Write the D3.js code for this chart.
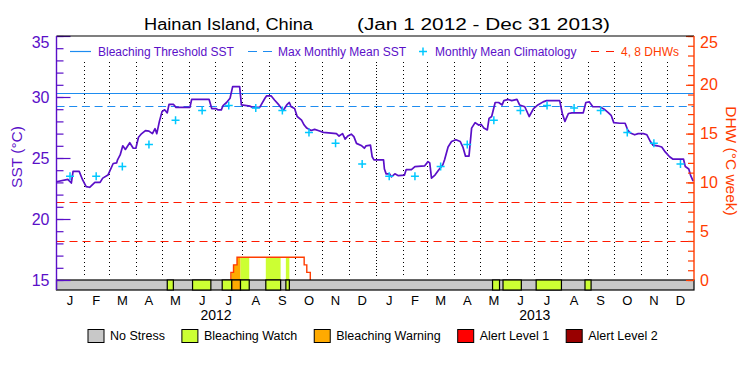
<!DOCTYPE html>
<html>
<head>
<meta charset="utf-8">
<script src="https://cdn.jsdelivr.net/npm/d3@7"></script>
<style>
  body { margin: 0; background: #fff; }
  svg { font-family: "Liberation Sans", Arial, sans-serif; }
</style>
</head>
<body>
<svg id="chart" width="750" height="375"></svg>
<script>
// ---- data ----
const monthLetters = ['J', 'F', 'M', 'A', 'M', 'J', 'J', 'A', 'S', 'O', 'N', 'D'];
const years = [2012, 2013];
const sstTicks = [15, 20, 25, 30, 35];
const dhwTicks = [0, 5, 10, 15, 20, 25];
const climatology = [23.5, 23.5, 24.3, 26.1, 28.1, 28.9, 29.3, 29.1, 28.9, 27.1, 26.2, 24.5];
const maxMonthlyMean = 29.3;
const bleachingThreshold = 30.3;
const dhwLevels = [4, 8];

const sstDates = [
  '2012-01-01', '2012-01-14', '2012-01-18', '2012-01-20', '2012-01-27', '2012-01-31', '2012-02-04', '2012-02-08',
  '2012-02-14', '2012-02-20', '2012-02-23', '2012-02-29', '2012-03-06', '2012-03-10', '2012-03-11', '2012-03-14',
  '2012-03-17', '2012-03-20', '2012-03-25', '2012-03-29', '2012-04-01', '2012-04-04', '2012-04-07', '2012-04-12',
  '2012-04-16', '2012-04-20', '2012-04-23', '2012-04-25', '2012-04-28', '2012-05-01', '2012-05-04', '2012-05-07',
  '2012-05-09', '2012-05-14', '2012-05-17', '2012-06-02', '2012-06-04', '2012-06-24', '2012-06-27', '2012-07-02',
  '2012-07-04', '2012-07-08', '2012-07-10', '2012-07-14', '2012-07-18', '2012-07-21', '2012-07-29', '2012-07-31',
  '2012-08-10', '2012-08-13', '2012-08-21', '2012-08-27', '2012-08-29', '2012-09-03', '2012-09-07', '2012-09-12',
  '2012-09-17', '2012-09-21', '2012-09-24', '2012-09-26', '2012-09-30', '2012-10-03', '2012-10-08', '2012-10-11',
  '2012-10-14', '2012-10-19', '2012-10-23', '2012-10-27', '2012-11-02', '2012-11-17', '2012-11-20', '2012-11-24',
  '2012-11-27', '2012-11-30', '2012-12-04', '2012-12-07', '2012-12-10', '2012-12-16', '2012-12-19', '2012-12-21',
  '2012-12-26', '2012-12-28', '2012-12-30', '2013-01-10', '2013-01-11', '2013-01-13', '2013-01-17', '2013-01-19',
  '2013-01-23', '2013-01-27', '2013-02-03', '2013-02-05', '2013-02-11', '2013-02-15', '2013-02-26', '2013-03-02',
  '2013-03-04', '2013-03-06', '2013-03-10', '2013-03-14', '2013-03-19', '2013-03-21', '2013-03-25', '2013-03-29',
  '2013-04-03', '2013-04-08', '2013-04-11', '2013-04-14', '2013-04-18', '2013-04-21', '2013-04-25', '2013-04-29',
  '2013-05-02', '2013-05-05', '2013-05-09', '2013-05-11', '2013-05-14', '2013-05-18', '2013-05-22', '2013-05-26',
  '2013-05-28', '2013-06-02', '2013-06-06', '2013-06-12', '2013-06-15', '2013-06-21', '2013-06-26', '2013-07-01',
  '2013-07-06', '2013-07-12', '2013-07-16', '2013-07-31', '2013-08-03', '2013-08-06', '2013-08-10', '2013-08-14',
  '2013-08-27', '2013-08-30', '2013-09-03', '2013-09-07', '2013-09-15', '2013-09-20', '2013-09-25', '2013-09-28',
  '2013-10-01', '2013-10-08', '2013-10-14', '2013-10-17', '2013-10-20', '2013-10-25', '2013-10-29', '2013-11-04',
  '2013-11-08', '2013-11-12', '2013-11-15', '2013-11-20', '2013-11-25', '2013-11-29', '2013-12-04', '2013-12-08',
  '2013-12-20', '2013-12-22', '2013-12-26', '2013-12-28', '2013-12-31'
];
const sstValues = [
  23.05, 23.25, 22.95, 23.9, 23.9, 23.2, 22.65, 22.6,
  23.0, 23.0, 23.35, 23.6, 24.55, 24.6, 24.85, 25.25,
  26.0, 25.7, 26.25, 25.8, 25.8, 26.7, 26.95, 27.25,
  27.2, 27.0, 27.4, 27.0, 28.0, 28.8, 28.95, 28.7,
  29.4, 29.4, 29.15, 29.15, 29.8, 29.8, 29.05, 29.05,
  28.95, 28.95, 29.3, 29.55, 29.9, 30.85, 30.85, 29.35,
  29.25, 29.15, 29.15, 29.9, 30.1, 30.1, 29.75, 29.35,
  28.9, 29.35, 29.55, 29.2, 29.05, 28.4, 28.1, 27.7,
  27.45, 27.25, 27.35, 27.25, 27.1, 27.0, 26.8, 27.0,
  26.55, 26.8, 26.95, 26.75, 26.2, 26.0, 25.8, 26.0,
  26.05, 25.1, 24.85, 24.85, 24.1, 23.7, 23.7, 23.45,
  23.7, 23.55, 23.6, 24.05, 24.05, 24.3, 24.35, 24.7,
  24.6, 23.35, 23.6, 24.0, 24.45, 24.85, 25.9, 26.35,
  26.5, 26.35, 25.9, 25.15, 25.15, 27.45, 27.9, 27.7,
  27.75, 27.45, 27.3, 28.25, 28.4, 29.55, 29.55, 29.35,
  29.7, 29.8, 29.7, 29.8, 29.35, 29.2, 28.4, 29.05,
  29.35, 29.6, 29.7, 29.7, 28.65, 28.0, 28.65, 28.7,
  28.7, 29.55, 29.6, 29.2, 29.2, 29.0, 28.7, 28.5,
  27.9, 27.85, 27.85, 27.3, 27.05, 26.9, 27.0, 27.0,
  26.9, 26.35, 26.05, 26.0, 25.9, 25.5, 25.1, 24.9,
  24.9, 24.3, 24.1, 23.6, 23.1
];

const dhwDates = ['2012-07-19', '2012-07-19', '2012-07-22', '2012-07-26', '2012-10-11', '2012-10-14', '2012-10-18'];
const dhwValues = [0, 0.78, 1.55, 2.33, 1.55, 0.78, 0];

// stress level: 1 = watch, 2 = warning (rest of the period is no stress)
const stressStart = ['2012-05-07', '2012-06-05', '2012-07-09', '2012-07-20', '2012-07-30', '2012-08-28', '2012-09-20',
  '2013-05-15', '2013-05-27', '2013-07-04', '2013-08-29'];
const stressEnd = ['2012-05-14', '2012-06-26', '2012-07-20', '2012-07-30', '2012-08-09', '2012-09-14', '2012-09-24',
  '2013-05-23', '2013-06-17', '2013-08-02', '2013-09-05'];
const stressLevel = [1, 1, 1, 2, 1, 1, 1, 1, 1, 1, 1];

const stressNames = ['No Stress', 'Bleaching Watch', 'Bleaching Warning', 'Alert Level 1', 'Alert Level 2'];
const stressColors = ['#c8c8c8', '#ccff33', '#ffaa00', '#ff0000', '#990000'];

// ---- chart ----
const purple = '#5a0fc8';
const red = '#ff3c00';
const blue = '#1e8cf0';
const cyan = '#00c8ff';

const svg = d3.select('#chart');
const pLeft = 56.5, pRight = 694, pTop = 36, pBottom = 280, barBottom = 290;
const parse = d3.timeParse('%Y-%m-%d');

const x = d3.scaleTime().domain([new Date(2012, 0, 1), new Date(2014, 0, 1)]).range([pLeft, pRight]);
const ySst = d3.scaleLinear().domain([15, 35]).range([pBottom, pTop]);
const yDhw = d3.scaleLinear().domain([0, 25]).range([pBottom, pTop]);

const sst = sstDates.map((d, i) => ({ date: parse(d), value: sstValues[i] }));
const dhw = dhwDates.map((d, i) => ({ date: parse(d), value: dhwValues[i] }));
const stress = stressStart.map((d, i) => ({ start: parse(d), end: parse(stressEnd[i]), level: stressLevel[i] }));

// month grid
const monthStarts = d3.timeMonth.range(new Date(2012, 1, 1), new Date(2014, 0, 1));
svg.append('g').selectAll('line').data(monthStarts).join('line')
  .attr('x1', d => Math.round(x(d)) + 0.5).attr('x2', d => Math.round(x(d)) + 0.5)
  .attr('y1', 62).attr('y2', 278)
  .attr('stroke', '#000')
  .attr('stroke-dasharray', d => d.getMonth() === 0 ? '1,2' : '1,3');

// DHW reference lines
svg.append('g').selectAll('line').data(dhwLevels).join('line')
  .attr('x1', pLeft).attr('x2', pRight)
  .attr('y1', d => Math.round(yDhw(d)) + 0.5).attr('y2', d => Math.round(yDhw(d)) + 0.5)
  .attr('stroke', '#ff1a00').attr('stroke-width', 1.2).attr('stroke-dasharray', '8,5');

// threshold and MMM
svg.append('line')
  .attr('x1', pLeft).attr('x2', pRight)
  .attr('y1', Math.round(ySst(bleachingThreshold)) + 0.5).attr('y2', Math.round(ySst(bleachingThreshold)) + 0.5)
  .attr('stroke', blue).attr('stroke-width', 1.2);
svg.append('line')
  .attr('x1', pLeft).attr('x2', pRight)
  .attr('y1', Math.round(ySst(maxMonthlyMean)) + 0.5).attr('y2', Math.round(ySst(maxMonthlyMean)) + 0.5)
  .attr('stroke', blue).attr('stroke-width', 1.2).attr('stroke-dasharray', '8,4.7');

// stress fill under DHW curve
const dhwArea = d3.area().curve(d3.curveStepAfter)
  .x(d => x(d.date)).y0(yDhw(0)).y1(d => yDhw(d.value));
const defs = svg.append('defs');
stress.forEach((s, i) => {
  defs.append('clipPath').attr('id', 'seg' + i)
    .append('rect')
    .attr('x', x(s.start)).attr('width', x(s.end) - x(s.start))
    .attr('y', pTop).attr('height', pBottom - pTop);
  svg.append('path').datum(dhw)
    .attr('d', dhwArea)
    .attr('fill', stressColors[s.level])
    .attr('clip-path', `url(#seg${i})`);
});

// DHW line
svg.append('path').datum(dhw)
  .attr('fill', 'none').attr('stroke', red).attr('stroke-width', 1.4)
  .attr('d', d3.line().curve(d3.curveStepAfter).x(d => x(d.date)).y(d => yDhw(d.value)));

// SST line
svg.append('path').datum(sst)
  .attr('fill', 'none').attr('stroke', purple).attr('stroke-width', 1.7)
  .attr('stroke-linejoin', 'round')
  .attr('d', d3.line().x(d => x(d.date)).y(d => ySst(d.value)));

// monthly mean climatology crosses
const climPoints = [];
years.forEach(yr => climatology.forEach((v, m) => {
  const mid = new Date((+new Date(yr, m, 1) + +new Date(yr, m + 1, 1)) / 2);
  climPoints.push({ date: mid, value: v });
}));
svg.append('g').selectAll('path').data(climPoints).join('path')
  .attr('d', d => {
    const cx = x(d.date), cy = ySst(d.value);
    return `M${cx - 4},${cy}H${cx + 4}M${cx},${cy - 4}V${cy + 4}`;
  })
  .attr('stroke', cyan).attr('stroke-width', 1.5).attr('fill', 'none');

// stress bar
svg.append('rect')
  .attr('x', pLeft).attr('y', pBottom).attr('width', pRight - pLeft).attr('height', barBottom - pBottom)
  .attr('fill', stressColors[0]).attr('stroke', '#000').attr('stroke-width', 1.2);
svg.append('g').selectAll('rect').data(stress).join('rect')
  .attr('x', d => x(d.start)).attr('width', d => x(d.end) - x(d.start))
  .attr('y', pBottom).attr('height', barBottom - pBottom)
  .attr('fill', d => stressColors[d.level]).attr('stroke', '#000').attr('stroke-width', 1.2);

// left axis (SST)
const gMinorL = svg.append('g').attr('transform', `translate(${pLeft},0)`)
  .call(d3.axisLeft(ySst).tickValues(d3.range(15, 36)).tickSize(-7).tickFormat(''));
const gMajorL = svg.append('g').attr('transform', `translate(${pLeft},0)`)
  .call(d3.axisLeft(ySst).tickValues(sstTicks).tickSize(-14).tickPadding(7));
[gMinorL, gMajorL].forEach(g => {
  g.select('.domain').remove();
  g.selectAll('line').attr('stroke', purple).attr('stroke-width', 1.2);
});
gMajorL.selectAll('text').attr('fill', purple).style('font-size', '16px')
  .style('font-family', '"Liberation Sans", Arial, sans-serif');
gMajorL.selectAll('.tick').filter(d => d === 35).select('text').attr('y', 6);

// right axis (DHW)
const gMinorR = svg.append('g').attr('transform', `translate(${pRight},0)`)
  .call(d3.axisRight(yDhw).tickValues(d3.range(0, 26)).tickSize(-6).tickFormat(''));
const gMajorR = svg.append('g').attr('transform', `translate(${pRight},0)`)
  .call(d3.axisRight(yDhw).tickValues(dhwTicks).tickSize(-8).tickPadding(6));
[gMinorR, gMajorR].forEach(g => {
  g.select('.domain').remove();
  g.selectAll('line').attr('stroke', red).attr('stroke-width', 1.2);
});
gMajorR.selectAll('text').attr('fill', red).style('font-size', '16px')
  .style('font-family', '"Liberation Sans", Arial, sans-serif');
gMajorR.selectAll('.tick').filter(d => d === 25).select('text').attr('y', 6);

// frame
svg.append('line').attr('x1', pLeft).attr('x2', pRight).attr('y1', pTop).attr('y2', pTop)
  .attr('stroke', '#000').attr('stroke-width', 1.2);
svg.append('line').attr('x1', pLeft).attr('x2', pLeft).attr('y1', pTop).attr('y2', barBottom)
  .attr('stroke', purple).attr('stroke-width', 1.4);
svg.append('line').attr('x1', pRight).attr('x2', pRight).attr('y1', pTop).attr('y2', pBottom)
  .attr('stroke', red).attr('stroke-width', 1.4);

// axis titles
svg.append('text')
  .attr('transform', `translate(22,157) rotate(-90)`)
  .attr('text-anchor', 'middle').attr('fill', purple).style('font-size', '15.5px')
  .text('SST (°C)');
svg.append('text')
  .attr('transform', `translate(726,161) rotate(90)`)
  .attr('text-anchor', 'middle').attr('fill', red).style('font-size', '15.5px')
  .text('DHW (°C week)');

// month and year labels
const months = d3.timeMonth.range(new Date(2012, 0, 1), new Date(2014, 0, 1));
svg.append('g').selectAll('text').data(months).join('text')
  .attr('x', d => (x(d) + x(d3.timeMonth.offset(d, 1))) / 2)
  .attr('y', 305)
  .attr('text-anchor', 'middle').style('font-size', '13px')
  .text(d => monthLetters[d.getMonth()]);
svg.append('g').selectAll('text').data(years).join('text')
  .attr('x', d => (x(new Date(d, 0, 1)) + x(new Date(d + 1, 0, 1))) / 2)
  .attr('y', 320)
  .attr('text-anchor', 'middle').style('font-size', '14px')
  .text(d => d);

// title
svg.append('text').attr('x', 144).attr('y', 30).style('font-size', '16px')
  .attr('textLength', 169).attr('lengthAdjust', 'spacingAndGlyphs')
  .text('Hainan Island, China');
svg.append('text').attr('x', 357).attr('y', 30).style('font-size', '16px')
  .attr('textLength', 253).attr('lengthAdjust', 'spacingAndGlyphs')
  .text('(Jan 1 2012 - Dec 31 2013)');

// top legend
const ly = 51.5;
const topLegend = svg.append('g').style('font-size', '12px');
topLegend.append('line').attr('x1', 70).attr('x2', 91).attr('y1', ly).attr('y2', ly)
  .attr('stroke', blue).attr('stroke-width', 1.2);
topLegend.append('text').attr('x', 98).attr('y', ly).attr('dy', '0.35em').attr('fill', purple)
  .text('Bleaching Threshold SST');
topLegend.append('line').attr('x1', 248).attr('x2', 272).attr('y1', ly).attr('y2', ly)
  .attr('stroke', blue).attr('stroke-width', 1.2).attr('stroke-dasharray', '9,6');
topLegend.append('text').attr('x', 278).attr('y', ly).attr('dy', '0.35em').attr('fill', purple)
  .text('Max Monthly Mean SST');
topLegend.append('path').attr('d', `M419,${ly}H427M423,${ly - 4}V${ly + 4}`)
  .attr('stroke', cyan).attr('stroke-width', 1.5);
topLegend.append('text').attr('x', 435).attr('y', ly).attr('dy', '0.35em').attr('fill', purple)
  .text('Monthly Mean Climatology');
topLegend.append('line').attr('x1', 591).attr('x2', 614).attr('y1', ly).attr('y2', ly)
  .attr('stroke', '#ff1a00').attr('stroke-width', 1.2).attr('stroke-dasharray', '8,7');
topLegend.append('text').attr('x', 621).attr('y', ly).attr('dy', '0.35em').attr('fill', red)
  .text('4, 8 DHWs');

// bottom legend (laid out from text widths)
const bottomLegend = svg.append('g').style('font-size', '12.5px');
let lx = 88;
stressNames.forEach((name, i) => {
  bottomLegend.append('rect').attr('x', lx).attr('y', 329.5).attr('width', 16).attr('height', 13)
    .attr('fill', stressColors[i]).attr('stroke', '#000').attr('stroke-width', 1);
  const t = bottomLegend.append('text').attr('x', lx + 22).attr('y', 336).attr('dy', '0.35em').text(name);
  lx += 22 + t.node().getComputedTextLength() + 17;
});
</script>
</body>
</html>
